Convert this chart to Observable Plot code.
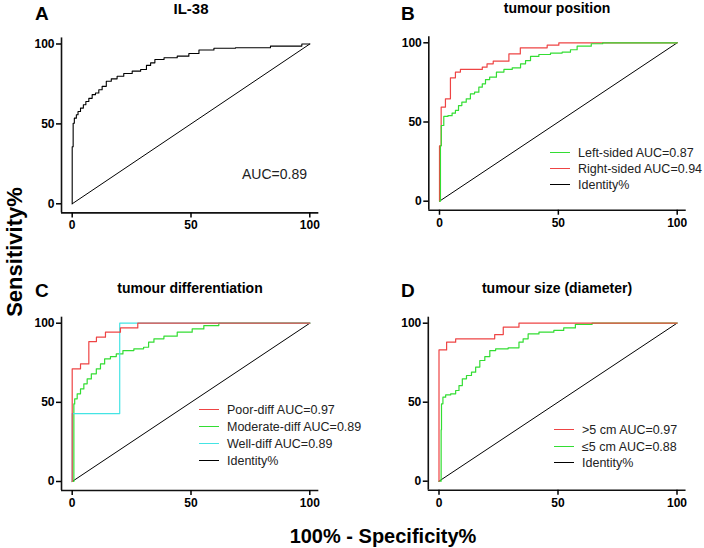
<!DOCTYPE html>
<html>
<head>
<meta charset="utf-8">
<script src="https://cdn.jsdelivr.net/npm/d3@7"></script>
<script src="https://cdn.jsdelivr.net/npm/@observablehq/plot@0.6"></script>
<style>
  body { margin: 0; background: #fff; }
  #chart { position: relative; width: 704px; height: 548px; font-family: "Liberation Sans", Arial, sans-serif; color: #000; overflow: hidden; }
  .abs { position: absolute; white-space: nowrap; }
  .title { font-weight: bold; font-size: 14px; transform: translateX(-50%); }
  .letter { font-weight: bold; font-size: 19px; }
  .leg { font-size: 12.5px; color: #222; line-height: 16px; height: 16px; }
  .leg span.sw { display: inline-block; width: 20px; height: 0; border-top: 1.5px solid; vertical-align: middle; margin-right: 8px; position: relative; top: -1px; }
</style>
</head>
<body>
<div id="chart"></div>
<script>
// ---- data ----
const xTicks = [0, 50, 100];
const yTicks = [0, 50, 100];
const identity = [0, 100];

// Panel A: IL-38
const il38X = [0, 0, 0.4, 0.4, 1.4, 2.1, 2.8, 4.2, 5.2, 6.3, 7.7, 9.1, 10.5, 11.9, 13.3, 15.4, 17.5, 20.3, 23.1, 27.4, 30.2, 32.3, 33.7, 35.9, 41.4, 47, 51.2, 55.5, 63.8, 73.6, 93.3, 100];
const il38Y = [0, 35.7, 35.7, 50.4, 53.6, 55.7, 57.8, 59.9, 62, 64, 66, 68.3, 69.3, 71.4, 73.5, 76.7, 78.2, 79.8, 81.5, 83, 84, 86.6, 88.2, 90.3, 91.4, 92.4, 94.1, 96.2, 97.3, 97.7, 98.7, 100];

// Panel B: tumour position
const leftX = [0, 0.4, 0.4, 1.1, 2.5, 4.6, 6, 7.4, 8.6, 10.2, 12.3, 13.7, 15.8, 17.3, 18.7, 20, 22.2, 25.7, 28.5, 32.7, 35.5, 36.9, 39.7, 43.9, 49.5, 53.7, 56.5, 59.3, 68.4, 68.9, 100];
const leftY = [0, 0, 35, 47.8, 53.5, 54, 55.6, 57.3, 60.4, 62.5, 64.6, 67.8, 68.8, 72, 74.1, 76.8, 78.3, 81.5, 83.2, 84.2, 86.7, 88.8, 91.4, 92.6, 93.5, 94.1, 95.6, 97.9, 99.4, 100, 100];
const rightX = [0, 0.7, 2.5, 4.6, 6.7, 8.8, 18, 20, 22.6, 29.2, 34, 45.3, 50.2, 100];
const rightY = [0, 35, 59.4, 64.6, 77.9, 81.5, 83.2, 84.6, 86.7, 88.4, 93, 96.8, 98.5, 100];

// Panel C: tumour differentiation
const poorX = [0, 3.5, 7, 10.2, 14, 20.3, 27.6, 100];
const poorY = [0, 71.2, 74.3, 88.4, 91.2, 94.3, 97, 100];
const modX = [0, 0.7, 0.7, 1.4, 2.8, 4.2, 5.6, 7, 9.1, 11.2, 12.6, 14.7, 17.5, 19.6, 23.1, 28.8, 31.3, 33, 35.8, 41.4, 47, 54, 56.8, 66.6, 100];
const modY = [0, 0, 49, 52.2, 55.4, 58.5, 61.7, 64.8, 68, 71.2, 74.3, 77.5, 78.9, 80.6, 82.7, 83.8, 84.8, 88, 90.1, 91.8, 94.3, 96.4, 98.5, 100, 100];
const wellX = [0, 20, 100];
const wellY = [0, 42.9, 100];

// Panel D: tumour size
const bigX = [0, 3.2, 7, 23.4, 27, 33.6, 100];
const bigY = [0, 83.1, 88, 90.1, 92.8, 97.5, 100];
const smallX = [0, 0.9, 0.9, 1.2, 2.1, 3.5, 6.3, 7.7, 9.1, 10.5, 12.6, 14.7, 16.1, 18.2, 20.3, 22.4, 25.2, 32.9, 34.3, 36.4, 38.5, 45.5, 51, 53.8, 60.8, 67.8, 100];
const smallY = [0, 0, 32.5, 49, 53.2, 54.6, 55.3, 57.4, 60.5, 64.8, 66.9, 69, 72.2, 76.4, 78.9, 82.7, 83.8, 84.4, 88, 90.1, 93.2, 94.3, 95.4, 97, 99.2, 100, 100];

const titles = ["IL-38", "tumour position", "tumour differentiation", "tumour size (diameter)"];
const letters = ["A", "B", "C", "D"];
const legB = ["Left-sided AUC=0.87", "Right-sided AUC=0.94", "Identity%"];
const legC = ["Poor-diff AUC=0.97", "Moderate-diff AUC=0.89", "Well-diff AUC=0.89", "Identity%"];
const legD = [">5 cm AUC=0.97", "\u22645 cm AUC=0.88", "Identity%"];
const aucA = "AUC=0.89";
const xTitle = "100% - Specificity%";
const yTitle = "Sensitivity%";

const RED = "#ee4444", GREEN = "#33dd33", CYAN = "#44e4e4", BLACK = "#000";

const pts = (xs, ys) => xs.map((x, i) => ({x, y: ys[i]}));

// ---- layout helpers ----
const chart = document.getElementById("chart");
const XD = [-4.5, 103.8], YD = [-5.7, 103.8];

function panel({L, T, W, H, x0, x100, y0, y100, marks}) {
  const kx = (x100 - x0) / 100, ky = (y0 - y100) / 100;
  const svg = Plot.plot({
    width: W, height: H,
    marginLeft: x0 + XD[0] * kx - L,
    marginRight: L + W - (x0 + XD[1] * kx),
    marginTop: y100 - (YD[1] - 100) * ky - T,
    marginBottom: T + H - (y0 - YD[0] * ky),
    x: {domain: XD}, y: {domain: YD},
    style: {fontFamily: "'Liberation Sans', Arial, sans-serif", color: "#000", background: "transparent", overflow: "visible"},
    marks: [
      Plot.line(identity, {x: d => d, y: d => d, stroke: BLACK, strokeWidth: 1}),
      ...marks,
      Plot.ruleY([YD[0]], {stroke: "#111", strokeWidth: 1.6}),
      Plot.ruleX([XD[0]], {stroke: "#111", strokeWidth: 1.6}),
      Plot.axisX(xTicks, {tickSize: 5, tickPadding: 3, fontSize: 12, fontWeight: "bold", strokeWidth: 1.5, label: null}),
      Plot.axisY(yTicks, {tickSize: 5, tickPadding: 2, fontSize: 12, fontWeight: "bold", strokeWidth: 1.5, label: null})
    ]
  });
  svg.style.position = "absolute";
  svg.style.left = L + "px";
  svg.style.top = T + "px";
  chart.appendChild(svg);
}

function addText(txt, cls, left, top, extra) {
  const d = document.createElement("div");
  d.className = "abs " + cls;
  d.textContent = txt;
  d.style.left = left + "px";
  d.style.top = top + "px";
  if (extra) Object.assign(d.style, extra);
  chart.appendChild(d);
  return d;
}

function legend(items, colors, left, ys) {
  items.forEach((t, i) => {
    const d = document.createElement("div");
    d.className = "abs leg";
    d.style.left = left + "px";
    d.style.top = (ys[i] - 8) + "px";
    const sw = document.createElement("span");
    sw.className = "sw";
    sw.style.borderTopColor = colors[i];
    d.appendChild(sw);
    d.appendChild(document.createTextNode(t));
    chart.appendChild(d);
  });
}

// Panel A
panel({L: 0, T: 0, W: 352, H: 262, x0: 71.7, x100: 309.3, y0: 203.3, y100: 43.5, marks: [
  Plot.line(pts(il38X, il38Y), {x: "x", y: "y", stroke: BLACK, strokeWidth: 1.1, curve: "step"})
]});
// Panel B
panel({L: 352, T: 0, W: 352, H: 262, x0: 439, x100: 676.7, y0: 200.7, y100: 42.3, marks: [
  Plot.line(pts(rightX, rightY), {x: "x", y: "y", stroke: RED, strokeWidth: 1.2, curve: "step-before"}),
  Plot.line(pts(leftX, leftY), {x: "x", y: "y", stroke: GREEN, strokeWidth: 1.2, curve: "step"})
]});
// Panel C
panel({L: 0, T: 274, W: 352, H: 274, x0: 71.7, x100: 309.3, y0: 481, y100: 322.7, marks: [
  Plot.line(pts(modX, modY), {x: "x", y: "y", stroke: GREEN, strokeWidth: 1.2, curve: "step"}),
  Plot.line(pts(wellX, wellY), {x: "x", y: "y", stroke: CYAN, strokeWidth: 1.2, curve: "step-before"}),
  Plot.line(pts(poorX, poorY), {x: "x", y: "y", stroke: RED, strokeWidth: 1.2, curve: "step-before"})
]});
// Panel D
panel({L: 352, T: 274, W: 352, H: 274, x0: 438.5, x100: 676.5, y0: 480.7, y100: 322.7, marks: [
  Plot.line(pts(smallX, smallY), {x: "x", y: "y", stroke: GREEN, strokeWidth: 1.2, curve: "step"}),
  Plot.line(pts(bigX, bigY), {x: "x", y: "y", stroke: RED, strokeWidth: 1.2, curve: "step-before"})
]});

// titles & letters
addText(titles[0], "title", 191, 0, {fontSize: "15px"});
addText(titles[1], "title", 557, 0);
addText(titles[2], "title", 190, 280);
addText(titles[3], "title", 557, 280);
addText(letters[0], "letter", 35, 3);
addText(letters[1], "letter", 401, 3);
addText(letters[2], "letter", 35, 280);
addText(letters[3], "letter", 401, 280);

// legends
addText(aucA, "", 242, 166, {fontSize: "14px", color: "#222"});
legend(legB, [GREEN, RED, BLACK], 550, [153, 169, 185]);
legend(legC, [RED, GREEN, CYAN, BLACK], 199, [410, 427, 444, 461]);
legend(legD, [RED, GREEN, BLACK], 554, [430, 446.5, 463]);

// axis titles
addText(xTitle, "", 383, 525, {fontSize: "20px", fontWeight: "bold", transform: "translateX(-50%)"});
addText(yTitle, "", 15, 252, {fontSize: "22px", fontWeight: "bold", transform: "translate(-50%,-50%) rotate(-90deg)"});
</script>
</body>
</html>
